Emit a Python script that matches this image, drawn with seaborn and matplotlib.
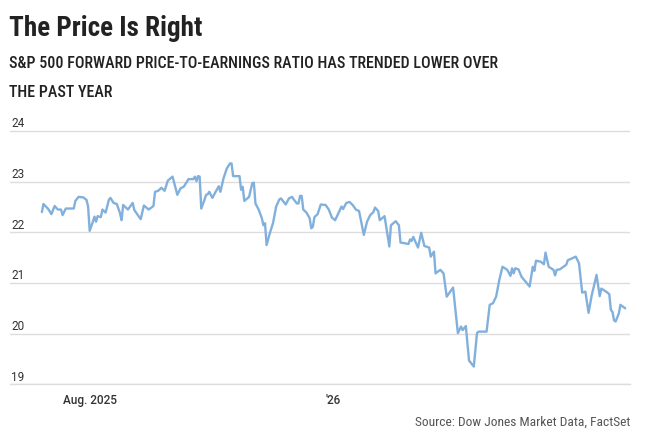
import matplotlib
matplotlib.use("Agg")
import matplotlib.pyplot as plt
import pandas as pd
import seaborn as sns

dates = [
    "2025-07-02", "2025-07-03", "2025-07-06", "2025-07-08", "2025-07-10", "2025-07-12", "2025-07-14", "2025-07-15", "2025-07-17", "2025-07-22",
    "2025-07-23", "2025-07-25", "2025-07-28", "2025-07-30", "2025-07-31", "2025-08-01", "2025-08-03", "2025-08-04", "2025-08-05", "2025-08-06",
    "2025-08-08", "2025-08-09", "2025-08-11", "2025-08-13", "2025-08-14", "2025-08-16", "2025-08-18", "2025-08-20", "2025-08-21", "2025-08-22",
    "2025-08-25", "2025-08-28", "2025-08-29", "2025-09-02", "2025-09-04", "2025-09-07", "2025-09-10", "2025-09-11", "2025-09-13", "2025-09-15",
    "2025-09-17", "2025-09-19", "2025-09-22", "2025-09-25", "2025-09-27", "2025-09-29", "2025-10-02", "2025-10-05", "2025-10-06", "2025-10-07",
    "2025-10-08", "2025-10-09", "2025-10-10", "2025-10-12", "2025-10-13", "2025-10-14", "2025-10-15", "2025-10-17", "2025-10-19", "2025-10-21",
    "2025-10-22", "2025-10-24", "2025-10-26", "2025-10-28", "2025-10-29", "2025-10-30", "2025-11-03", "2025-11-04", "2025-11-05", "2025-11-06",
    "2025-11-09", "2025-11-11", "2025-11-12", "2025-11-13", "2025-11-15", "2025-11-17", "2025-11-18", "2025-11-19", "2025-11-20", "2025-11-22",
    "2025-11-24", "2025-11-26", "2025-11-28", "2025-11-29", "2025-12-02", "2025-12-04", "2025-12-06", "2025-12-07", "2025-12-09", "2025-12-10",
    "2025-12-11", "2025-12-12", "2025-12-13", "2025-12-15", "2025-12-17", "2025-12-18", "2025-12-19", "2025-12-20", "2025-12-22", "2025-12-24",
    "2025-12-27", "2025-12-29", "2025-12-31", "2026-01-02", "2026-01-05", "2026-01-06", "2026-01-07", "2026-01-09", "2026-01-11", "2026-01-13",
    "2026-01-15", "2026-01-17", "2026-01-19", "2026-01-20", "2026-01-22", "2026-01-24", "2026-01-26", "2026-01-27", "2026-01-29", "2026-01-30",
    "2026-02-02", "2026-02-05", "2026-02-06", "2026-02-09", "2026-02-11", "2026-02-12", "2026-02-17", "2026-02-18", "2026-02-19", "2026-02-20",
    "2026-02-23", "2026-02-25", "2026-02-27", "2026-03-02", "2026-03-03", "2026-03-05", "2026-03-06", "2026-03-09", "2026-03-11", "2026-03-13",
    "2026-03-17", "2026-03-20", "2026-03-22", "2026-03-23", "2026-03-25", "2026-03-27", "2026-03-30", "2026-04-01", "2026-04-02", "2026-04-07",
    "2026-04-09", "2026-04-11", "2026-04-13", "2026-04-15", "2026-04-17", "2026-04-20", "2026-04-22", "2026-04-23", "2026-04-24", "2026-04-25",
    "2026-04-27", "2026-04-29", "2026-05-04", "2026-05-06", "2026-05-07", "2026-05-08", "2026-05-11", "2026-05-13", "2026-05-14", "2026-05-16",
    "2026-05-19", "2026-05-20", "2026-05-21", "2026-05-23", "2026-05-27", "2026-05-28", "2026-06-02", "2026-06-04", "2026-06-05", "2026-06-06",
    "2026-06-08", "2026-06-10", "2026-06-12", "2026-06-13", "2026-06-15", "2026-06-17", "2026-06-18", "2026-06-21", "2026-06-23", "2026-06-24",
    "2026-06-25", "2026-06-26", "2026-06-27", "2026-06-29", "2026-06-30", "2026-07-03",
]

pe_ratio = [
    22.40, 22.56, 22.46, 22.36, 22.52, 22.45, 22.45, 22.34, 22.47, 22.47,
    22.62, 22.70, 22.69, 22.64, 22.51, 22.03, 22.21, 22.31, 22.21, 22.32,
    22.30, 22.45, 22.39, 22.64, 22.68, 22.58, 22.56, 22.38, 22.24, 22.54,
    22.45, 22.58, 22.44, 22.26, 22.53, 22.45, 22.52, 22.80, 22.82, 22.88,
    22.82, 23.02, 23.10, 22.74, 22.87, 22.90, 23.05, 23.05, 23.10, 23.01,
    23.11, 23.10, 22.47, 22.64, 22.74, 22.75, 22.80, 22.68, 22.80, 22.91,
    22.80, 23.07, 23.26, 23.36, 23.36, 23.11, 23.11, 22.84, 22.90, 22.62,
    22.70, 22.97, 22.98, 22.57, 22.45, 22.28, 22.14, 22.18, 21.75, 21.98,
    22.18, 22.51, 22.65, 22.67, 22.55, 22.67, 22.70, 22.65, 22.57, 22.57,
    22.72, 22.72, 22.45, 22.39, 22.28, 22.08, 22.11, 22.30, 22.36, 22.55,
    22.54, 22.45, 22.29, 22.24, 22.44, 22.51, 22.46, 22.58, 22.60, 22.54,
    22.45, 22.42, 22.11, 21.95, 22.21, 22.34, 22.40, 22.49, 22.42, 22.24,
    22.32, 21.72, 22.14, 22.22, 22.14, 21.80, 21.77, 21.86, 21.83, 21.91,
    21.70, 21.99, 21.73, 21.70, 21.52, 21.62, 21.19, 21.26, 21.19, 20.73,
    20.91, 20.01, 20.14, 20.07, 20.15, 19.47, 19.35, 20.01, 20.04, 20.04,
    20.57, 20.60, 20.73, 21.06, 21.32, 21.26, 21.14, 21.29, 21.19, 21.29,
    21.27, 21.12, 20.93, 21.32, 21.24, 21.44, 21.42, 21.37, 21.60, 21.32,
    21.26, 21.15, 21.26, 21.27, 21.36, 21.45, 21.52, 21.39, 21.09, 20.81,
    20.83, 20.41, 20.76, 20.89, 21.16, 20.74, 20.89, 20.83, 20.78, 20.47,
    20.43, 20.26, 20.24, 20.40, 20.57, 20.50,
]

y_ticks = [19, 20, 21, 22, 23, 24]
month_ticks = pd.date_range("2025-08-01", "2026-07-01", freq="MS")
month_labels = ["Aug. 2025", "", "", "", "", "'26", "", "", "", "", "", ""]

title = "The Price Is Right"
subtitle_1 = "S&P 500 FORWARD PRICE-TO-EARNINGS RATIO HAS TRENDED LOWER OVER"
subtitle_2 = "THE PAST YEAR"
source = "Source: Dow Jones Market Data, FactSet"

df = pd.DataFrame({"date": pd.to_datetime(dates), "pe": pe_ratio})

sns.set_theme(style="white")
narrow = ["Roboto Condensed", "Roboto", "DejaVu Sans"]
plt.rcParams["font.family"] = ["Roboto", "DejaVu Sans"]

fig = plt.figure(figsize=(6.72, 4.47), dpi=100)
ax = fig.add_axes([10 / 672, 1 - 384.3 / 447, 620 / 672, (384.3 - 128.5) / 447])

sns.lineplot(data=df, x="date", y="pe", ax=ax, color="#82b0dc", linewidth=1.7)

ax.set_xlim(pd.Timestamp("2025-06-12"), pd.Timestamp("2026-07-06"))
ax.set_ylim(19, 24.05)

# gridlines with the value sitting just above each line
for v in y_ticks:
    ax.axhline(v, color="#dddddd", linewidth=1, zorder=0)
    ax.annotate(str(v), xy=(0, v), xycoords=ax.get_yaxis_transform(),
                xytext=(1, 2.7), textcoords="offset points",
                ha="left", va="baseline", fontsize=8.5, color="#333333")

ax.set_yticks([])
ax.set_xticks(month_ticks)
ax.set_xticklabels(month_labels)
ax.tick_params(axis="x", direction="out", length=2.8, width=0.9, color="#222222",
               pad=4.5, labelsize=8.5, labelcolor="#333333")
for lbl in ax.get_xticklabels():
    lbl.set_fontweight("medium")
ax.set_xlabel("")
ax.set_ylabel("")
for s in ["top", "left", "right"]:
    ax.spines[s].set_visible(False)
ax.spines["bottom"].set_color("#dddddd")
ax.spines["bottom"].set_linewidth(1)

fig.text(9 / 672, 1 - 36 / 447, title, ha="left", va="baseline",
         fontsize=19.5, fontweight="bold", color="#222222", family=narrow)
fig.text(9 / 672, 1 - 68 / 447, subtitle_1, ha="left", va="baseline",
         fontsize=11.5, fontweight="medium", color="#222222", family=narrow)
fig.text(9 / 672, 1 - 97 / 447, subtitle_2, ha="left", va="baseline",
         fontsize=11.5, fontweight="medium", color="#222222", family=narrow)
fig.text(630 / 672, 1 - 426 / 447, source, ha="right", va="baseline",
         fontsize=9.7, color="#555555", family=narrow)

fig.savefig("out.png", dpi=100)
